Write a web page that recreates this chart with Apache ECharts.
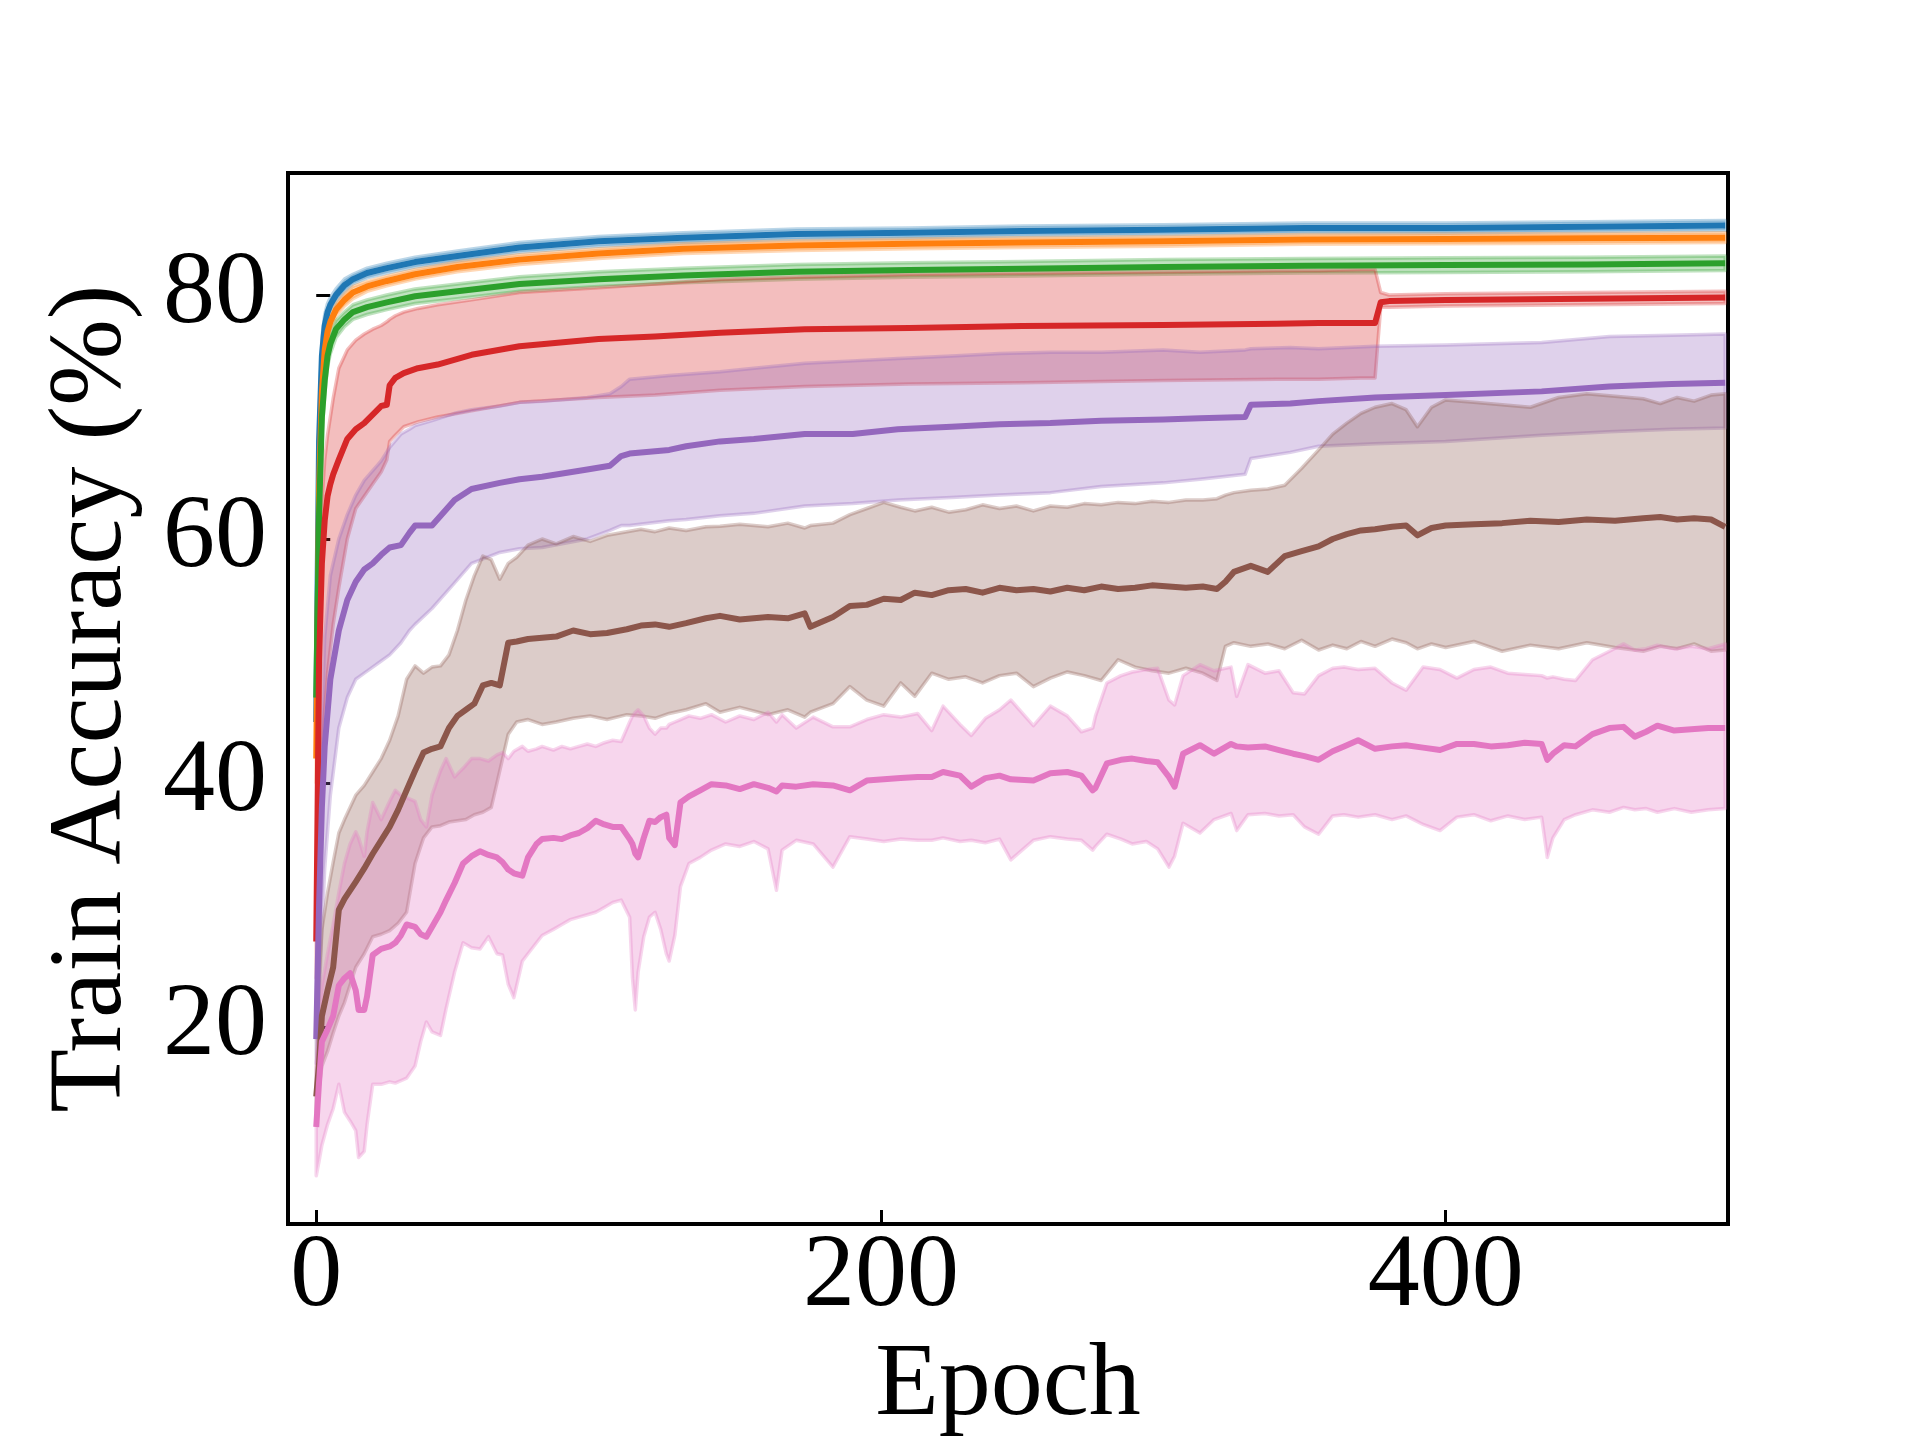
<!DOCTYPE html>
<html>
<head>
<meta charset="utf-8">
<script src="https://cdn.jsdelivr.net/npm/echarts@6/dist/echarts.min.js"></script>
<style>html,body{margin:0;padding:0;background:#fff}#c{width:1920px;height:1440px}</style>
</head>
<body>
<div id="c"></div>
<script>
// ---------- data ----------
const xTicks = [0, 200, 400];
const yTicks = [20, 40, 60, 80];

const blueEpochs = [0,1,2,3,4,5,7,10,13,18,25,35,50,72,100,130,170,210,250,300,350,400,450,499];
const blueMean = [45,68,75,77.5,78.6,79.2,80.0,80.8,81.3,81.8,82.2,82.7,83.2,83.9,84.4,84.7,85.0,85.1,85.25,85.35,85.5,85.5,85.6,85.7];
const blueLow  = [43,66,73.5,76.6,77.9,78.6,79.5,80.3,80.9,81.4,81.8,82.3,82.8,83.5,84.0,84.3,84.6,84.7,84.85,84.95,85.1,85.1,85.2,85.3];
const blueHigh = [47,70,76.5,78.4,79.3,79.8,80.5,81.3,81.7,82.2,82.6,83.1,83.6,84.3,84.8,85.1,85.4,85.5,85.65,85.75,85.9,85.9,86.0,86.1];

const orangeEpochs = [0,1,2,3,4,5,7,10,13,18,25,35,50,72,100,130,170,210,250,300,350,400,450,499];
const orangeMean = [42,64,72,75.5,77.0,77.8,78.8,79.6,80.2,80.7,81.15,81.7,82.3,82.9,83.4,83.8,84.05,84.2,84.3,84.4,84.55,84.6,84.65,84.7];
const orangeLow  = [40,62,70.5,74.6,76.3,77.2,78.3,79.1,79.7,80.3,80.75,81.3,81.9,82.5,83.0,83.4,83.65,83.8,83.9,84.0,84.15,84.2,84.25,84.3];
const orangeHigh = [44,66,73.5,76.4,77.7,78.4,79.3,80.1,80.7,81.1,81.55,82.1,82.7,83.3,83.8,84.2,84.45,84.6,84.7,84.8,84.95,85.0,85.05,85.1];

const greenEpochs = [0,1,2,3,4,5,7,10,13,18,25,35,50,72,100,130,170,210,250,300,350,400,450,499];
const greenMean = [47,62,70,73,75,76,77.2,78.0,78.6,79.0,79.4,79.9,80.3,80.9,81.3,81.6,81.9,82.05,82.15,82.3,82.4,82.45,82.5,82.6];
const greenLow  = [45,60,68.5,71.8,74.1,75.2,76.5,77.4,78.0,78.4,78.8,79.3,79.7,80.3,80.7,81.0,81.3,81.45,81.55,81.7,81.8,81.85,81.9,82.0];
const greenHigh = [49,64,71.5,74.2,75.9,76.8,77.9,78.6,79.2,79.6,80.0,80.5,80.9,81.5,81.9,82.2,82.5,82.65,82.75,82.9,83.0,83.05,83.1,83.2];

const redEpochs = [0,1,2,3,4,5,6,8,11,14,17,20,23,25,26,28,31,36,43,55,72,100,120,143,173,210,250,300,340,355,370,375,377,380,400,450,499];
const redMean = [27,50,58,61.5,63.5,64.5,65.3,66.5,68.2,69.0,69.5,70.2,70.9,71.0,72.6,73.2,73.6,74.0,74.3,75.1,75.8,76.4,76.6,76.9,77.2,77.3,77.45,77.55,77.65,77.7,77.7,77.7,79.4,79.5,79.6,79.7,79.8];
const redHigh = [30,56,63,66.5,68.5,70,71.5,74,75.5,76.3,76.8,77.2,77.5,77.8,78.0,78.3,78.6,78.9,79.2,79.6,80.2,80.6,80.9,81.3,81.5,81.7,81.8,81.9,82.0,82.0,82.1,82.1,80.2,80.0,80.1,80.2,80.3];
const redLow  = [24,36,42,46,49,51,53,56,60,62.5,63.5,64.5,65.5,66.5,68.0,68.5,69.2,69.6,70.0,70.5,71.2,71.6,71.8,72.2,72.5,72.7,72.8,73.0,73.1,73.1,73.2,73.2,79.0,79.0,79.1,79.2,79.3];

const purpleEpochs = [0,1,2,3,5,8,11,14,17,20,23,26,30,33,35,41,49,55,65,72,80,96,104,108,111,125,131,143,155,173,190,206,225,242,260,278,300,313,329,331,345,355,375,400,434,458,480,499];
const purpleMean = [19,30,38,43,48.5,52.5,55,56.5,57.5,58.0,58.7,59.3,59.5,60.5,61.1,61.1,63.2,64.1,64.6,64.9,65.1,65.7,66.0,66.8,67.0,67.3,67.6,68.0,68.2,68.6,68.6,69.0,69.2,69.4,69.5,69.7,69.8,69.9,70.0,71.0,71.1,71.3,71.6,71.8,72.1,72.5,72.7,72.8];
const purpleHigh = [22,35,45,52,57,60,62,63.6,64.8,65.6,66.4,67.5,68.6,69.0,69.3,69.7,70.3,70.6,70.9,71.2,71.3,71.6,71.9,72.5,73.1,73.4,73.5,73.7,74.0,74.4,74.6,74.8,75.0,75.2,75.3,75.3,75.5,75.3,75.5,75.6,75.7,75.6,75.8,75.9,76.1,76.6,76.7,76.8];
const purpleLow  = [17,22,28,33,39,44.5,47,48.5,49,49.5,50.0,50.5,51.5,52.5,53.0,54.3,56.4,58.0,58.9,59.2,59.3,60.0,60.7,61.1,61.1,61.5,61.6,61.9,62.1,62.7,62.9,63.2,63.4,63.6,63.8,64.3,64.6,64.9,65.3,66.6,67.1,67.6,67.8,68.0,68.5,68.8,69.0,69.1];

const brownEpochs = [0,1,2,4,6,8,10,14,17,20,
  23,26,29,32,35,38,41,44,47,50,
  53,56,59,62,65,68,71,75,80,85,
  91,97,103,110,115,120,125,131,138,143,
  150,160,167,173,175,183,189,195,201,207,
  212,218,224,230,236,242,248,254,260,266,
  272,278,284,290,296,302,308,314,319,322,
  325,331,337,343,349,355,360,365,370,375,
  381,386,390,395,400,410,420,430,440,450,
  460,470,476,482,488,494,499];
const brownMean = [14.3,17,20.9,23,24.9,29.6,30.5,31.9,33,34.2,
  35.3,36.4,37.8,39.4,41,42.5,42.8,43.0,44.5,45.5,
  46.0,46.5,48.0,48.2,48.0,51.5,51.6,51.8,51.9,52.0,
  52.5,52.2,52.3,52.6,52.9,53.0,52.8,53.1,53.5,53.7,
  53.4,53.6,53.5,53.9,52.8,53.6,54.5,54.6,55.1,55.0,
  55.6,55.4,55.8,55.9,55.6,56.0,55.8,55.9,55.7,56.0,
  55.8,56.1,55.9,56.0,56.2,56.1,56.0,56.1,55.9,56.5,
  57.3,57.8,57.3,58.6,59.0,59.4,60.0,60.4,60.7,60.8,
  61.0,61.1,60.3,60.9,61.1,61.2,61.3,61.5,61.4,61.6,
  61.5,61.7,61.8,61.6,61.7,61.6,61.0];
const brownHigh = [16,24,28,31,33.5,35.9,37,39.0,39.8,40.9,
  42,43.5,45.5,48.5,49.6,49.0,49.5,49.6,50.5,52.5,
  55.0,57.0,58.6,58.3,56.7,58.0,58.5,59.5,60.0,59.6,
  60.2,59.8,60.3,60.6,60.8,60.6,60.9,60.7,61.0,61.05,
  61.2,61.0,61.3,60.9,61.1,61.3,62.0,62.5,63.0,62.6,
  62.3,62.6,62.2,62.4,62.8,62.5,62.7,62.3,62.7,62.6,
  62.9,62.8,63.0,62.9,63.1,63.0,63.2,63.2,63.3,63.6,
  63.8,64.0,64.1,64.4,65.8,67.3,68.6,69.5,70.3,70.8,
  71.1,70.6,69.2,70.8,71.4,71.2,71.0,70.8,71.6,71.9,
  71.7,71.5,71.1,71.6,71.3,71.8,71.9];
const brownLow = [13,15,16.8,18,19.5,20.9,22,24.9,26,27.4,
  27.6,27.9,28.5,29.4,33.4,35.5,36.4,36.5,36.8,36.9,
  37.0,37.4,37.6,38.0,41.0,44.0,45.0,45.2,44.8,45.0,
  45.3,45.5,45.2,45.6,45.5,45.3,45.7,46.0,46.5,45.8,
  46.2,45.6,46.0,45.4,45.8,46.5,47.9,46.8,46.3,48.2,
  47.1,49.0,48.5,48.7,48.2,48.8,49.0,47.9,48.6,49.1,
  48.8,48.4,50.1,49.5,49.2,49.0,49.4,49.0,48.4,51.2,
  51.5,51.2,51.4,51.0,51.7,50.9,51.3,51.0,51.6,51.2,
  51.8,51.5,51.0,51.4,51.1,51.6,50.8,51.3,51.0,51.5,
  51.1,50.8,51.2,51.0,51.4,50.8,50.9];

const pinkEpochs = [0,1,2,4,6,8,10,12,14,15,
  17,18,20,23,26,28,30,32,35,37,
  39,41,44,46,49,52,55,58,61,64,
  66,68,70,73,75,78,80,84,87,90,
  93,96,99,102,105,108,111,112,113,114,
  116,118,120,122,124,125,127,129,132,136,
  140,145,150,155,160,163,165,170,176,183,
  189,195,201,207,213,218,222,228,232,237,
  242,246,254,260,266,271,275,276,280,285,
  289,294,298,302,304,307,313,318,324,326,
  330,336,341,346,350,355,360,364,369,375,
  381,386,392,398,404,410,416,422,428,434,
  436,438,442,446,452,458,463,467,471,475,
  481,487,493,499];
const pinkMean = [11.8,15.5,18.8,19.8,20.9,23.4,24.0,24.4,23.0,21.4,
  21.4,22.5,25.9,26.4,26.6,26.9,27.5,28.4,28.2,27.6,
  27.4,28.2,29.4,30.4,31.8,33.4,34.0,34.4,34.1,33.9,
  33.5,32.9,32.6,32.4,33.9,35.0,35.4,35.5,35.4,35.7,
  35.9,36.3,36.9,36.6,36.4,36.4,35.4,35.0,34.2,33.9,
  35.5,36.9,36.8,37.2,37.4,35.5,34.9,38.4,38.9,39.4,
  39.9,39.8,39.5,39.9,39.6,39.3,39.8,39.7,39.9,39.8,
  39.4,40.2,40.3,40.4,40.5,40.5,40.9,40.6,39.7,40.4,
  40.6,40.3,40.2,40.8,40.9,40.6,39.4,39.6,41.6,41.9,
  42.0,41.8,41.7,40.5,39.7,42.4,43.1,42.4,43.2,43.0,
  42.9,43.0,42.7,42.4,42.2,41.9,42.6,43.0,43.5,42.8,
  43.0,43.1,42.9,42.7,43.2,43.2,43.0,43.1,43.3,43.2,
  41.9,42.4,43.1,43.0,44.0,44.5,44.6,43.8,44.2,44.7,
  44.3,44.4,44.5,44.5];
const pinkLow = [7.8,9,10.3,12.0,13.3,15.3,13.0,12.3,11.5,9.3,
  9.8,12.0,15.3,15.3,15.5,15.4,15.6,15.8,16.8,18.8,
  20.4,19.6,19.3,21.5,24.5,26.9,26.5,26.4,27.4,26.0,
  25.9,23.5,22.4,25.4,26.0,26.9,27.5,28.0,28.4,28.8,
  29.0,29.2,29.4,29.8,30.2,30.4,29.0,24.0,21.4,24.5,
  27.4,29.0,29.4,28.0,26.0,25.4,27.5,31.5,33.4,33.9,
  34.5,35.0,34.8,35.2,34.6,31.2,34.5,35.3,35.0,33.1,
  35.6,35.4,35.2,35.4,35.3,35.3,35.5,35.2,35.3,35.1,
  35.4,33.7,35.3,35.6,35.4,35.3,34.5,34.8,35.8,35.4,
  35.0,35.2,34.6,33.1,34.0,36.7,35.9,37.0,37.5,36.1,
  37.4,37.5,37.3,37.4,36.4,35.8,37.3,37.4,37.2,37.4,
  37.0,37.3,36.6,36.1,37.2,37.4,36.9,37.3,37.0,37.2,
  33.9,35.5,37.0,37.4,37.8,37.6,38.0,37.8,37.9,37.6,
  37.9,37.6,37.8,37.9];
const pinkHigh = [16.8,20,23.4,26.0,28.4,31.0,33.4,35.0,36.0,35.5,
  34.0,36.0,38.4,37.0,38.5,39.4,39.0,38.8,38.5,37.0,
  36.4,39.0,41.0,42.0,40.5,41.2,42.0,42.0,41.8,42.3,
  42.5,42.0,42.6,43.0,42.6,42.8,43.0,42.7,43.0,42.8,
  43.0,43.2,43.0,43.3,43.5,43.4,45.0,45.5,45.8,46.0,
  45.5,44.5,44.0,44.5,44.5,44.8,45.0,45.2,45.5,45.3,
  45.6,45.0,45.5,45.2,45.8,45.0,45.6,44.5,45.4,44.6,
  44.6,45.2,45.6,45.4,45.7,44.3,46.3,44.8,43.9,45.3,
  46.0,46.8,44.7,46.3,45.5,44.2,44.5,45.5,48.2,48.8,
  49.1,49.3,49.4,46.8,46.4,48.8,49.7,49.2,49.5,47.1,
  49.7,49.0,49.2,47.4,47.3,48.8,49.4,49.5,49.3,49.4,
  48.2,47.6,49.5,49.3,48.6,49.3,49.5,49.0,48.9,48.8,
  48.6,48.7,48.5,48.4,50.1,50.8,51.4,50.9,51.0,51.3,
  51.0,51.2,51.0,51.4];

// ---------- chart ----------
const runs = [
  {color: '#1f77b4', x: blueEpochs, mean: blueMean, low: blueLow, high: blueHigh},
  {color: '#ff7f0e', x: orangeEpochs, mean: orangeMean, low: orangeLow, high: orangeHigh},
  {color: '#2ca02c', x: greenEpochs, mean: greenMean, low: greenLow, high: greenHigh},
  {color: '#d62728', x: redEpochs, mean: redMean, low: redLow, high: redHigh},
  {color: '#9467bd', x: purpleEpochs, mean: purpleMean, low: purpleLow, high: purpleHigh},
  {color: '#8c564b', x: brownEpochs, mean: brownMean, low: brownLow, high: brownHigh},
  {color: '#e377c2', x: pinkEpochs, mean: pinkMean, low: pinkLow, high: pinkHigh}
];

function rgba(hex, a) {
  const n = parseInt(hex.slice(1), 16);
  return 'rgba(' + ((n >> 16) & 255) + ',' + ((n >> 8) & 255) + ',' + (n & 255) + ',' + a + ')';
}

const FONT = '"Liberation Serif", "Times New Roman", "DejaVu Serif", serif';
const series = [];

runs.forEach(function (r) {
  series.push({
    type: 'custom',
    coordinateSystem: 'cartesian2d',
    silent: true,
    z: 1,
    data: r.x.map(function (e, i) { return [e, r.low[i], r.high[i]]; }),
    encode: {x: 0, y: [1, 2]},
    renderItem: function (params, api) {
      if (params.dataIndex !== 0) return null;
      const up = r.x.map(function (e, i) { return api.coord([e, r.high[i]]); });
      const lo = r.x.map(function (e, i) { return api.coord([e, r.low[i]]); }).reverse();
      return {
        type: 'polygon',
        shape: {points: up.concat(lo)},
        style: {fill: rgba(r.color, 0.3), stroke: rgba(r.color, 0.3), lineWidth: 3.5, lineJoin: 'round'}
      };
    }
  });
});

runs.forEach(function (r) {
  series.push({
    type: 'line',
    z: 2,
    silent: true,
    showSymbol: false,
    symbol: 'none',
    data: r.x.map(function (e, i) { return [e, r.mean[i]]; }),
    lineStyle: {color: r.color, width: 6, join: 'round', cap: 'butt'},
    itemStyle: {color: r.color}
  });
});

const chart = echarts.init(document.getElementById('c'), null, {renderer: 'canvas', width: 1920, height: 1440});
chart.setOption({
  animation: false,
  backgroundColor: '#ffffff',
  grid: {
    left: 288, top: 173, width: 1440, height: 1051,
    show: true, borderColor: '#000', borderWidth: 4, backgroundColor: 'transparent',
    outerBoundsMode: 'none'
  },
  xAxis: {
    type: 'value', min: -10, max: 500,
    splitLine: {show: false},
    axisLine: {show: false},
    axisTick: {show: true, inside: true, length: 14, lineStyle: {color: '#000', width: 3}, customValues: xTicks},
    axisLabel: {customValues: xTicks, color: '#000', fontFamily: FONT, fontSize: 104, lineHeight: 104, margin: 2},
    name: 'Epoch', nameLocation: 'middle', nameGap: 107,
    nameTextStyle: {color: '#000', fontFamily: FONT, fontSize: 104, lineHeight: 104}
  },
  yAxis: {
    type: 'value', min: 3.85, max: 90,
    splitLine: {show: false},
    axisLine: {show: false},
    axisTick: {show: true, inside: true, length: 14, lineStyle: {color: '#000', width: 3}, customValues: yTicks},
    axisLabel: {customValues: yTicks, color: '#000', fontFamily: FONT, fontSize: 104, lineHeight: 104, margin: 21},
    name: 'Train Accuracy (%)', nameLocation: 'middle', nameGap: 143,
    nameTextStyle: {color: '#000', fontFamily: FONT, fontSize: 104, lineHeight: 104}
  },
  series: series
});
</script>
</body>
</html>
